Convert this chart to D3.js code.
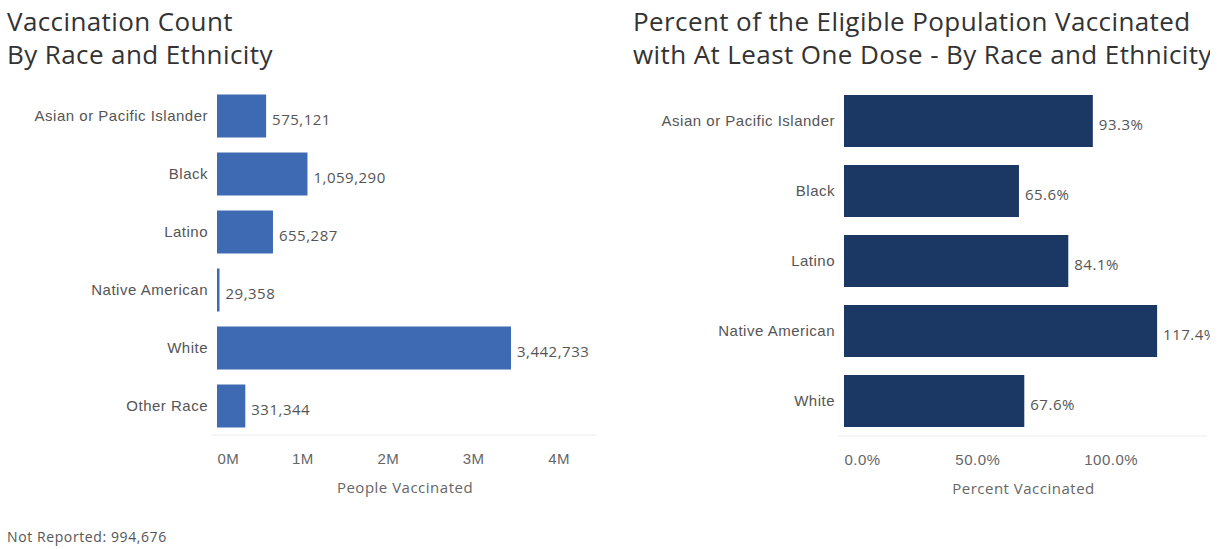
<!DOCTYPE html>
<html>
<head>
<meta charset="utf-8">
<script src="https://cdn.jsdelivr.net/npm/d3@7"></script>
<style>
  body { margin: 0; background: #fff; }
  svg { display: block; font-family: "Open Sans", "Noto Sans", sans-serif; }
</style>
</head>
<body>
<svg id="chart" width="1225" height="549"></svg>
<script>
// 数据
const countCategories = ["Asian or Pacific Islander", "Black", "Latino", "Native American", "White", "Other Race"];
const countValues = [575121, 1059290, 655287, 29358, 3442733, 331344];
const countTicks = [0, 1e6, 2e6, 3e6, 4e6];
const notReported = 994676;

const pctCategories = ["Asian or Pacific Islander", "Black", "Latino", "Native American", "White"];
const pctValues = [93.3, 65.6, 84.1, 117.4, 67.6];
const pctTicks = [0, 50, 100];

const svg = d3.select("#chart");

const textColor = "#555";
const titleColor = "#333";
const labelSize = 15;
const labelSpacing = "0.5px";

function drawPanel(opts) {
    const g = svg.append("g");
    if (opts.clip) {
        svg.append("clipPath").attr("id", opts.clip.id)
            .append("rect").attr("x", 0).attr("y", 0).attr("width", opts.clip.right).attr("height", 549);
        g.attr("clip-path", `url(#${opts.clip.id})`);
    }

    // 标题
    g.append("text")
        .attr("x", opts.titleX).attr("y", 31)
        .attr("fill", titleColor).attr("font-size", 26)
        .attr("letter-spacing", "0.4px")
        .selectAll("tspan").data(opts.title).join("tspan")
        .attr("x", opts.titleX).attr("dy", (d, i) => i === 0 ? 0 : 33)
        .text(d => d);

    const x = d3.scaleLinear().domain(opts.domain).range([opts.x0, opts.x1]);
    const y = d3.scaleBand().domain(opts.categories)
        .range([opts.y0, opts.y0 + opts.step * opts.categories.length])
        .paddingInner(opts.padding).paddingOuter(opts.padding / 2);

    // 底线
    g.append("line")
        .attr("x1", opts.x0 - 6).attr("x2", opts.lineEnd)
        .attr("y1", opts.baseY).attr("y2", opts.baseY)
        .attr("stroke", "#ececec");

    g.append("g").selectAll("rect")
        .data(opts.values).join("rect")
        .attr("x", x(0))
        .attr("y", (d, i) => y(opts.categories[i]))
        .attr("width", d => x(d) - x(0))
        .attr("height", y.bandwidth())
        .attr("fill", opts.color);

    g.append("g").selectAll("text")
        .data(opts.values).join("text")
        .attr("x", d => x(d) + 6)
        .attr("y", (d, i) => y(opts.categories[i]) + y.bandwidth() / 2 + 4)
        .attr("dy", "0.35em")
        .attr("fill", textColor).attr("font-size", labelSize)
        .attr("letter-spacing", labelSpacing)
        .text(opts.valueFormat);

    // 类别轴
    const yAxis = g.append("g")
        .attr("transform", `translate(${opts.x0 - 9},0)`)
        .call(d3.axisLeft(y).tickSize(0).tickPadding(0));
    yAxis.select(".domain").remove();
    yAxis.selectAll("text").attr("fill", textColor).attr("font-size", labelSize)
        .attr("letter-spacing", labelSpacing)
        .attr("font-family", null);

    // 数值轴
    const xAxis = g.append("g")
        .attr("transform", `translate(0,${opts.baseY + 18})`)
        .call(d3.axisBottom(x).tickValues(opts.ticks).tickFormat(opts.tickFormat).tickSize(0).tickPadding(0));
    xAxis.select(".domain").remove();
    xAxis.selectAll("text").attr("fill", "#666").attr("font-size", labelSize).attr("font-family", null)
        .attr("letter-spacing", labelSpacing)
        .attr("text-anchor", d => d === 0 ? "start" : "middle");

    g.append("text")
        .attr("x", (opts.x0 + opts.lineEnd) / 2 - 2)
        .attr("y", opts.baseY + 58)
        .attr("text-anchor", "middle")
        .attr("fill", "#666").attr("font-size", labelSize)
        .attr("letter-spacing", labelSpacing)
        .text(opts.axisTitle);
}

drawPanel({
    title: ["Vaccination Count", "By Race and Ethnicity"],
    titleX: 7,
    categories: countCategories,
    values: countValues,
    ticks: countTicks,
    domain: [0, 4e6],
    x0: 217, x1: 217 + 341.6,
    y0: 87, step: 58, padding: 15 / 58,
    baseY: 435, lineEnd: 597,
    color: "#3e6ab3",
    valueFormat: d3.format(","),
    tickFormat: d => (d / 1e6) + "M",
    axisTitle: "People Vaccinated"
});

drawPanel({
    title: ["Percent of the Eligible Population Vaccinated", "with At Least One Dose - By Race and Ethnicity"],
    titleX: 633,
    categories: pctCategories,
    values: pctValues,
    ticks: pctTicks,
    domain: [0, 100],
    x0: 844, x1: 844 + 266.7,
    y0: 86, step: 70, padding: 18 / 70,
    baseY: 436, lineEnd: 1207,
    color: "#1b3864",
    valueFormat: d => d.toFixed(1) + "%",
    tickFormat: d => d.toFixed(1) + "%",
    axisTitle: "Percent Vaccinated",
    clip: { id: "clipRight", right: 1210 }
});

svg.append("text")
    .attr("x", 7).attr("y", 542)
    .attr("fill", textColor).attr("font-size", 14)
    .attr("letter-spacing", "0.6px")
    .text(`Not Reported: ${d3.format(",")(notReported)}`);
</script>
</body>
</html>
